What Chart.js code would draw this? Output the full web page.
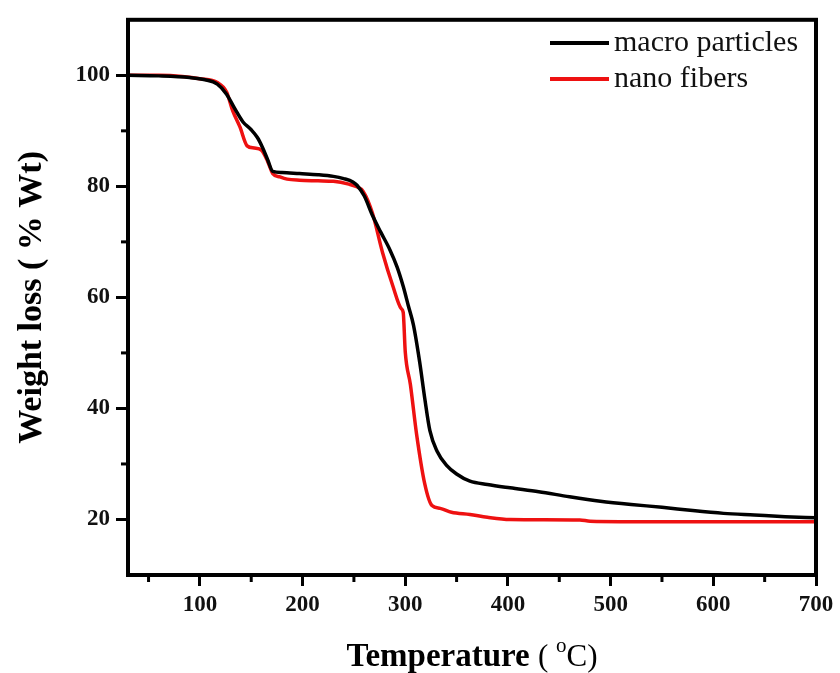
<!DOCTYPE html>
<html>
<head>
<meta charset="utf-8">
<script src="https://cdn.jsdelivr.net/npm/chart.js@4.4.1/dist/chart.umd.min.js"></script>
<style>
  html, body { margin: 0; padding: 0; background: #fff; }
  #wrap { width: 840px; height: 673px; }
</style>
</head>
<body>
<div id="wrap"><canvas id="tga"></canvas></div>
<script>
// TGA curves: temperature (C) -> weight (%)
const macroTemp = [30, 60, 90, 105, 117, 126, 134, 142, 150, 156, 161, 166, 171, 180, 197, 215, 230, 240, 249, 253, 260, 268, 276, 285, 292, 298, 303, 308, 314, 319, 324, 331, 340, 350, 363, 380, 402, 430, 460, 490, 520, 550, 580, 610, 640, 670, 700];
const macroWeight = [100, 99.9, 99.6, 99.2, 98.4, 96.6, 94, 91.6, 90.2, 88.8, 87, 84.8, 82.7, 82.5, 82.3, 82.1, 81.8, 81.4, 80.8, 80.2, 78.3, 74.8, 71.8, 68.6, 65.5, 62, 58.5, 55, 48.4, 41.8, 36, 32.3, 29.8, 28.2, 26.9, 26.3, 25.7, 25, 24.1, 23.3, 22.7, 22.2, 21.6, 21.1, 20.8, 20.5, 20.3];

const nanoTemp = [30, 60, 83, 100, 117, 126, 132, 139, 146, 153, 160, 166, 171, 178, 185, 197, 215, 230, 245, 252, 259, 268, 278, 288, 296, 298, 300, 305, 311, 319, 326, 334, 345, 363, 380, 402, 470, 480, 550, 700];
const nanoWeight = [100, 100, 99.8, 99.4, 98.7, 97, 93.6, 90.7, 87.3, 86.9, 86.5, 84.5, 82.3, 81.7, 81.3, 81.1, 81, 80.9, 80.4, 80, 79.1, 75.2, 68, 62, 58, 57.3, 50.2, 44.3, 35.4, 26.4, 22.5, 22, 21.3, 20.9, 20.4, 20, 19.9, 19.7, 19.6, 19.6];

const seriesNames = ["macro particles", "nano fibers"];
const seriesColors = ["#000000", "#ee1111"];

const xMajor = [100, 200, 300, 400, 500, 600, 700];
const xMinor = [50, 150, 250, 350, 450, 550, 650];
const yMajor = [20, 40, 60, 80, 100];
const yMinor = [30, 50, 70, 90];

const serif = '"Liberation Serif", "Times New Roman", serif';

function pairs(xs, ys) {
    return xs.map((x, i) => ({ x: x, y: ys[i] }));
}

// minor ticks, closed frame, inner legend and x title with superscript
const decorations = {
    id: "decorations",
    afterDraw(chart) {
        const ctx = chart.ctx;
        const area = chart.chartArea;
        const xs = chart.scales.x;
        const ys = chart.scales.y;

        ctx.save();
        ctx.strokeStyle = "#000";
        ctx.lineWidth = 3;
        xMinor.forEach(v => {
            const px = xs.getPixelForValue(v);
            ctx.beginPath();
            ctx.moveTo(px, area.bottom);
            ctx.lineTo(px, area.bottom + 7);
            ctx.stroke();
        });
        yMinor.forEach(v => {
            const py = ys.getPixelForValue(v);
            ctx.beginPath();
            ctx.moveTo(area.left, py);
            ctx.lineTo(area.left - 7, py);
            ctx.stroke();
        });

        ctx.lineWidth = 4;
        ctx.strokeRect(area.left, area.top, area.right - area.left, area.bottom - area.top);

        // legend
        ctx.font = "30px " + serif;
        ctx.textBaseline = "middle";
        ctx.textAlign = "left";
        chart.data.datasets.forEach((ds, i) => {
            const y = 43 + i * 36;
            ctx.strokeStyle = ds.borderColor;
            ctx.lineWidth = 4;
            ctx.beginPath();
            ctx.moveTo(550, y);
            ctx.lineTo(609, y);
            ctx.stroke();
            ctx.fillStyle = "#111";
            ctx.fillText(ds.label, 614, y);
        });

        // x title: Temperature ( oC) with superscript o
        const big = "bold 33px " + serif;
        const mid = "31px " + serif;
        const small = "21px " + serif;
        const p1 = "Temperature ", p2 = "( ", p3 = "o", p4 = "C)";
        ctx.font = big; const w1 = ctx.measureText(p1).width;
        ctx.font = mid; const w2 = ctx.measureText(p2).width;
        ctx.font = small; const w3 = ctx.measureText(p3).width;
        ctx.font = mid; const w4 = ctx.measureText(p4).width;
        let x = (area.left + area.right) / 2 - (w1 + w2 + w3 + w4) / 2;
        const base = 666;
        ctx.fillStyle = "#000";
        ctx.textBaseline = "alphabetic";
        ctx.font = big; ctx.fillText(p1, x, base); x += w1;
        ctx.font = mid; ctx.fillText(p2, x, base); x += w2;
        ctx.font = small; ctx.fillText(p3, x, base - 14); x += w3;
        ctx.font = mid; ctx.fillText(p4, x, base);
        ctx.restore();
    }
};

new Chart(document.getElementById("tga"), {
    type: "line",
    data: {
        datasets: [
            {
                label: seriesNames[0],
                data: pairs(macroTemp, macroWeight),
                borderColor: seriesColors[0],
                borderWidth: 3.5,
                pointRadius: 0,
                cubicInterpolationMode: "monotone",
                fill: false
            },
            {
                label: seriesNames[1],
                data: pairs(nanoTemp, nanoWeight),
                borderColor: seriesColors[1],
                borderWidth: 3.5,
                pointRadius: 0,
                cubicInterpolationMode: "monotone",
                fill: false
            }
        ]
    },
    options: {
        responsive: true,
        maintainAspectRatio: false,
        animation: false,
        layout: { padding: { left: 0, right: 24, top: 13, bottom: 0 } },
        plugins: {
            legend: { display: false },
            tooltip: { enabled: false }
        },
        scales: {
            x: {
                type: "linear",
                min: 30,
                max: 700,
                afterBuildTicks: scale => { scale.ticks = xMajor.map(v => ({ value: v })); },
                afterFit: scale => { scale.height = 98; },
                grid: { drawOnChartArea: false, tickLength: 11, tickWidth: 3, color: "#000" },
                border: { color: "#000", width: 4 },
                ticks: {
                    color: "#111",
                    padding: 5,
                    maxRotation: 0,
                    font: { family: serif, size: 23, weight: "bold" }
                }
            },
            y: {
                min: 10,
                max: 110,
                afterBuildTicks: scale => { scale.ticks = yMajor.map(v => ({ value: v })); },
                afterFit: scale => { scale.width = 128; },
                grid: { drawOnChartArea: false, tickLength: 12, tickWidth: 3, color: "#000" },
                border: { color: "#000", width: 4 },
                ticks: {
                    color: "#111",
                    padding: 6,
                    font: { family: serif, size: 23, weight: "bold" }
                },
                title: {
                    display: true,
                    text: "Weight loss ( % Wt)",
                    color: "#000",
                    padding: { top: 12, bottom: 0 },
                    font: { family: serif, size: 34, weight: "bold" }
                }
            }
        }
    },
    plugins: [decorations]
});
</script>
</body>
</html>
